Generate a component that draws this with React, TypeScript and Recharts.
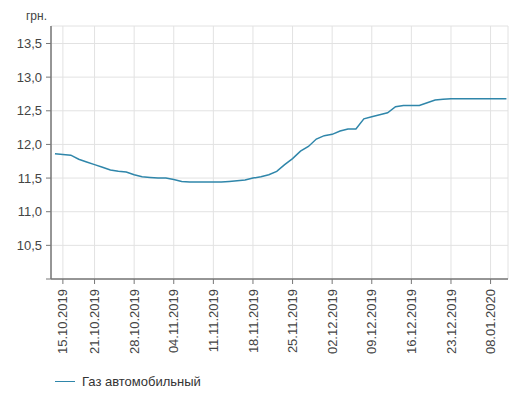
import { CartesianGrid, Line, LineChart, XAxis, YAxis } from "recharts";

const DATES = [
  "14.10.2019", "15.10.2019", "16.10.2019", "17.10.2019", "18.10.2019",
  "21.10.2019", "22.10.2019", "23.10.2019", "24.10.2019", "25.10.2019",
  "28.10.2019", "29.10.2019", "30.10.2019", "31.10.2019", "01.11.2019",
  "04.11.2019", "05.11.2019", "06.11.2019", "07.11.2019", "08.11.2019",
  "11.11.2019", "12.11.2019", "13.11.2019", "14.11.2019", "15.11.2019",
  "18.11.2019", "19.11.2019", "20.11.2019", "21.11.2019", "22.11.2019",
  "25.11.2019", "26.11.2019", "27.11.2019", "28.11.2019", "29.11.2019",
  "02.12.2019", "03.12.2019", "04.12.2019", "05.12.2019", "06.12.2019",
  "09.12.2019", "10.12.2019", "11.12.2019", "12.12.2019", "13.12.2019",
  "16.12.2019", "17.12.2019", "18.12.2019", "19.12.2019", "20.12.2019",
  "23.12.2019", "24.12.2019", "26.12.2019", "27.12.2019", "03.01.2020",
  "08.01.2020", "09.01.2020", "10.01.2020",
];

const GAS = [
  11.86, 11.85, 11.84, 11.78, 11.74, 11.7, 11.66, 11.62, 11.6, 11.59,
  11.55, 11.52, 11.51, 11.5, 11.5, 11.48, 11.45, 11.44, 11.44, 11.44,
  11.44, 11.44, 11.45, 11.46, 11.47, 11.5, 11.52, 11.55, 11.6, 11.7,
  11.79, 11.9, 11.97, 12.08, 12.13, 12.15, 12.2, 12.23, 12.23, 12.38,
  12.41, 12.44, 12.47, 12.56, 12.58, 12.58, 12.58, 12.62, 12.66, 12.67,
  12.68, 12.68, 12.68, 12.68, 12.68, 12.68, 12.68, 12.68,
];

const X_TICK_LABELS = [
  "15.10.2019", "21.10.2019", "28.10.2019", "04.11.2019", "11.11.2019", "18.11.2019",
  "25.11.2019", "02.12.2019", "09.12.2019", "16.12.2019", "23.12.2019", "08.01.2020",
];
const Y_TICKS = [10, 10.5, 11, 11.5, 12, 12.5, 13, 13.5];

const FONT = "'Liberation Sans', Arial, sans-serif";
const LINE_COLOR = "#2f86aa";

const data = GAS.map((v, i) => ({ i, date: DATES[i], gas: v }));
const xTicks = X_TICK_LABELS.map((d) => DATES.indexOf(d));

function DateTick({ x, y, payload }: any) {
  return (
    <text
      x={x}
      y={y}
      transform={`rotate(-90, ${x}, ${y})`}
      textAnchor="end"
      dy="0.35em"
      fill="#444"
      fontSize={13}
      fontFamily={FONT}
    >
      {DATES[payload.value]}
    </text>
  );
}

export default function App() {
  return (
    <div style={{ position: "absolute", left: 0, top: 0, width: 516, height: 399, background: "#fff" }}>
      <LineChart width={516} height={399} data={data} margin={{ top: 26, right: 8, left: 0, bottom: 40 }}>
        <CartesianGrid stroke="#e2e2e2" strokeWidth={1} />
        <XAxis
          type="number"
          dataKey="i"
          domain={[-0.5, 57.2]}
          ticks={xTicks}
          interval={0}
          height={80}
          tickSize={5}
          tickMargin={5}
          tick={<DateTick />}
          axisLine={{ stroke: "#777", strokeWidth: 1.5 }}
          tickLine={{ stroke: "#777" }}
        />
        <YAxis
          type="number"
          domain={[10, 13.76]}
          ticks={Y_TICKS}
          width={51}
          tickSize={5}
          tickMargin={4}
          allowDataOverflow
          tickFormatter={(v: number) => (v === 10 ? "" : v.toFixed(1).replace(".", ","))}
          tick={{ fill: "#444", fontSize: 13, fontFamily: FONT }}
          axisLine={{ stroke: "#777", strokeWidth: 1.5 }}
          tickLine={{ stroke: "#777" }}
          label={{ value: "грн.", position: "top", dx: 11, offset: 6, fill: "#444", fontSize: 12, fontFamily: FONT }}
        />
        <Line
          type="linear"
          dataKey="gas"
          name="Газ автомобильный"
          stroke={LINE_COLOR}
          strokeWidth={1.5}
          dot={false}
          isAnimationActive={false}
        />
      </LineChart>
      <div
        style={{
          position: "absolute",
          left: 55,
          top: 374,
          display: "flex",
          alignItems: "center",
          fontFamily: FONT,
          fontSize: 13,
          color: "#333",
        }}
      >
        <span style={{ display: "inline-block", width: 20, height: 0, borderTop: `1.5px solid ${LINE_COLOR}`, marginRight: 7 }} />
        Газ автомобильный
      </div>
    </div>
  );
}
